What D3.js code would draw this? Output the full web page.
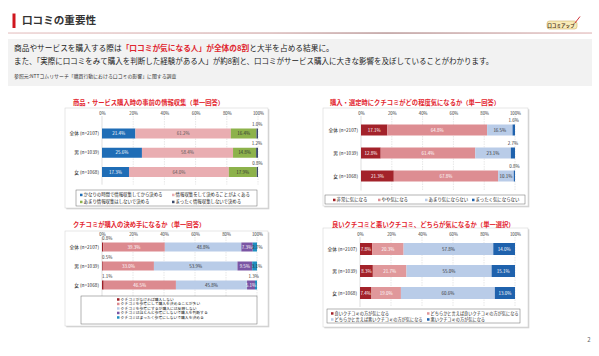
<!DOCTYPE html>
<html><head><meta charset="utf-8">
<script src="https://cdn.jsdelivr.net/npm/d3@7"></script>
<style>body{margin:0;background:#fff;} svg{display:block;}</style>
</head><body><svg id="c" width="599" height="356"></svg>
<script>
const FONT = '"Noto Sans CJK JP","Noto Sans",sans-serif';
const groups = ["全体 (n=2107)", "男 (n=1039)", "女 (n=1068)"];
const tickValues = [0, 20, 40, 60, 80, 100];
const tickLabels = ["0%", "20%", "40%", "60%", "80%", "100%"];

const c1Title = "商品・サービス購入時の事前の情報収集（単一回答）";
const c1Series = ["かなりの時間で情報収集してから決める", "情報収集をして決めることがよくある", "あまり情報収集はしないで決める", "まったく情報収集しないで決める"];
const c1Values = [[21.4, 61.2, 16.4, 1.0], [25.6, 58.4, 14.8, 1.2], [17.3, 64.0, 17.9, 0.8]];

const c2Title = "購入・選定時にクチコミがどの程度気になるか（単一回答）";
const c2Series = ["非常に気になる", "やや気になる", "あまり気にならない", "まったく気にならない"];
const c2Values = [[17.1, 64.8, 16.5, 1.6], [12.8, 61.4, 23.1, 2.7], [21.3, 67.8, 10.1, 0.8]];

const c3Title = "クチコミが購入の決め手になるか（単一回答）";
const c3Series = ["クチコミがなければ購入しない", "クチコミを参考にして購入を決めることが多い", "クチコミを参考にするが購入には反映しない", "クチコミはほとんど参考にしないで購入を判断する", "クチコミはまったく参考にしないで購入を決める"];
const c3Values = [[0.8, 39.3, 48.8, 7.3, 2.7], [0.5, 33.0, 53.9, 9.5, 3.1], [1.1, 46.5, 45.8, 5.1, 1.3]];

const c4Title = "良いクチコミと悪いクチコミ、どちらが気になるか（単一選択）";
const c4Series = ["良いクチコミの方が気になる", "どちらかと言えば良いクチコミの方が気になる", "どちらかと言えば悪いクチコミの方が気になる", "悪いクチコミの方が気になる"];
const c4Values = [[7.8, 20.3, 57.8, 14.0], [8.3, 21.7, 55.0, 15.1], [7.4, 19.0, 60.6, 13.0]];

const svg = d3.select("#c").attr("font-family", FONT);

// ---------- header ----------
const defs = svg.append("defs");
const grad = defs.append("linearGradient").attr("id", "ul");
grad.append("stop").attr("offset", "0%").attr("stop-color", "#ecd2d2");
grad.append("stop").attr("offset", "45%").attr("stop-color", "#d9b8b8");
grad.append("stop").attr("offset", "65%").attr("stop-color", "#b99898");
grad.append("stop").attr("offset", "100%").attr("stop-color", "#e8c8c8");

svg.append("rect").attr("x", 12.5).attr("y", 13.5).attr("width", 3).attr("height", 14.5).attr("fill", "#d0161e");
svg.append("text").attr("x", 22).attr("y", 24.3).attr("font-size", 10.6).attr("font-weight", "bold").attr("fill", "#333").text("口コミの重要性");
svg.append("rect").attr("x", 8).attr("y", 32.3).attr("width", 584).attr("height", 1.5).attr("fill", "url(#ul)");

// logo
svg.append("rect").attr("x", 547).attr("y", 21).attr("width", 30).attr("height", 8).attr("rx", 2.5).attr("fill", "#f8ebb8").attr("stroke", "#c7a24c").attr("stroke-width", 0.5);
svg.append("text").attr("x", 561).attr("y", 26.7).attr("text-anchor", "middle").attr("font-size", 4.6).attr("font-weight", "bold").attr("fill", "#4a3217").text("口コミアップ");
svg.append("line").attr("x1", 575).attr("y1", 23).attr("x2", 580).attr("y2", 16.5).attr("stroke", "#d2343a").attr("stroke-width", 1);

svg.append("rect").attr("x", 8).attr("y", 39).attr("width", 584).attr("height", 47).attr("fill", "#f2f2f2");
const l1 = svg.append("text").attr("x", 14).attr("y", 51).attr("font-size", 7.7).attr("fill", "#222");
l1.append("tspan").text("商品やサービスを購入する際は");
l1.append("tspan").attr("fill", "#e0262f").attr("font-weight", "bold").text("「口コミが気になる人」が全体の8割");
l1.append("tspan").text("と大半を占める結果に。");
svg.append("text").attr("x", 14).attr("y", 64).attr("font-size", 7.5).attr("fill", "#222")
  .text("また、「実際に口コミをみて購入を判断した経験がある人」が約8割と、口コミがサービス購入に大きな影響を及ぼしていることがわかります。");
svg.append("text").attr("x", 14).attr("y", 78).attr("font-size", 4.9).attr("fill", "#333")
  .text("参照元:NTTコムリサーチ「購買行動における口コミの影響」に関する調査");

svg.append("text").attr("x", 589).attr("y", 342).attr("text-anchor", "middle").attr("font-size", 6).attr("fill", "#666").text("2");

// ---------- chart helper ----------
function drawChart(o) {
  const g = svg.append("g");
  const [fx0, fy0, fx1, fy1] = o.frame;
  g.append("rect").attr("x", fx0 + 1.3).attr("y", fy0 + 1.3).attr("width", fx1 - fx0).attr("height", fy1 - fy0).attr("fill", "#d2d2d2");
  g.append("rect").attr("x", fx0).attr("y", fy0).attr("width", fx1 - fx0).attr("height", fy1 - fy0)
    .attr("fill", "#fff").attr("stroke", "#d6d6d6").attr("stroke-width", 0.6);
  g.append("text").attr("x", o.titleX).attr("y", o.titleY).attr("font-size", 6.3).attr("font-weight", "bold").attr("fill", "#e3262f").text(o.title);

  const x = d3.scaleLinear().domain([0, 100]).range([o.x0, o.x1]);
  const step = (o.rowY[2] - o.rowY[0]) / 2;
  const p = 1 - o.barH / step;
  const y = d3.scaleBand().domain(groups).range([o.rowY[0] - step / 2, o.rowY[2] + step / 2]).paddingInner(p).paddingOuter(p / 2);

  const gy0 = o.axisY + 3, gy1 = o.rowY[2] + step / 2 + 3;
  g.selectAll("line.grid").data(tickValues.slice(1)).join("line").attr("class", "grid")
    .attr("x1", d => x(d)).attr("x2", d => x(d)).attr("y1", gy0).attr("y2", gy1)
    .attr("stroke", "#cfcfcf").attr("stroke-width", 0.5).attr("stroke-dasharray", "1.5,1");
  g.append("line").attr("x1", x(0)).attr("x2", x(0)).attr("y1", gy0).attr("y2", gy1).attr("stroke", "#bdbdbd").attr("stroke-width", 0.5);

  const ax = g.append("g").attr("transform", `translate(0,${o.axisY + 1.5})`)
    .call(d3.axisTop(x).tickValues(tickValues).tickFormat((d, i) => tickLabels[i]).tickSize(0).tickPadding(0));
  ax.attr("font-family", FONT);
  ax.select(".domain").remove();
  ax.selectAll("text").attr("font-size", 4.3).attr("fill", "#333");

  groups.forEach(gn => {
    g.append("text").attr("x", o.x0 - 3).attr("y", y(gn) + y.bandwidth() / 2 + 1.6)
      .attr("text-anchor", "end").attr("font-size", 4.7).attr("fill", "#222").text(gn);
  });

  o.values.forEach((row, i) => {
    const total = d3.sum(row);
    const by = y(groups[i]), bh = y.bandwidth();
    let acc = 0;
    row.forEach((v, j) => {
      const a = acc / total * 100, b = (acc + v) / total * 100;
      acc += v;
      g.append("rect").attr("x", x(a)).attr("y", by).attr("width", x(b) - x(a)).attr("height", bh).attr("fill", o.colors[j]);
    });
    acc = 0;
    row.forEach((v, j) => {
      const a = acc / total * 100, b = (acc + v) / total * 100;
      acc += v;
      const lab = v.toFixed(1) + "%";
      const pl = o.place(v, j, row.length);
      const t = g.append("text").attr("font-size", 4.5).text(lab);
      if (pl === "above") {
        t.attr("x", (x(a) + x(b)) / 2).attr("y", by - 2.5).attr("text-anchor", "middle").attr("fill", "#333");
      } else if (pl === "aboveStart") {
        t.attr("x", x(a)).attr("y", by - 2.5).attr("text-anchor", "start").attr("fill", "#333");
      } else if (pl === "aboveEnd") {
        t.attr("x", x(b) + 2).attr("y", by - 2.5).attr("text-anchor", "end").attr("fill", "#333");
      } else if (pl === "after") {
        t.attr("x", x(a) - 0.5).attr("y", by + bh / 2 + 1.6).attr("text-anchor", "start").attr("fill", "#333");
      } else {
        t.attr("x", (x(a) + x(b)) / 2).attr("y", by + bh / 2 + 1.6).attr("text-anchor", "middle").attr("fill", o.labelFill[j]);
      }
    });
  });

  const [lx0, ly0, lx1, ly1] = o.legendBox;
  g.append("rect").attr("x", lx0).attr("y", ly0).attr("width", lx1 - lx0).attr("height", ly1 - ly0)
    .attr("fill", "#fff").attr("stroke", "#6a6a6a").attr("stroke-width", 0.5);
  o.series.forEach((s, j) => {
    const [px, py] = o.legendPos[j];
    g.append("rect").attr("x", px).attr("y", py - 2.3).attr("width", 2.5).attr("height", 2.5).attr("fill", o.colors[j]);
    g.append("text").attr("x", px + 3.6).attr("y", py).attr("font-size", o.legendFont).attr("fill", "#222").text(s);
  });
}

// chart 1
drawChart({
  title: c1Title, series: c1Series, values: c1Values,
  frame: [65, 108, 268, 208], titleX: 73, titleY: 105,
  x0: 102, x1: 258, axisY: 113, rowY: [133.5, 152.5, 172], barH: 10,
  colors: ["#1f6db6", "#e9adb1", "#8db24b", "#3b4a6b"],
  labelFill: ["#fff", "#555", "#333", "#fff"],
  place: (v, j, n) => v < 2 ? "above" : "in",
  legendBox: [76, 190, 257, 206], legendFont: 4.4,
  legendPos: [[80, 196], [172, 196], [80, 203], [172, 203]]
});

// chart 2
drawChart({
  title: c2Title, series: c2Series, values: c2Values,
  frame: [323, 108, 528, 206], titleX: 330, titleY: 105,
  x0: 361, x1: 515, axisY: 113, rowY: [130, 153, 176], barH: 11,
  colors: ["#a3222a", "#dd8d92", "#b9cce8", "#1f62ad"],
  labelFill: ["#fff", "#fff", "#333", "#fff"],
  place: (v, j, n) => v < 3 ? "above" : "in",
  legendBox: [325, 195, 525, 204], legendFont: 4.4,
  legendPos: [[333, 201], [378, 201], [425, 201], [472, 201]]
});

// chart 3
drawChart({
  title: c3Title, series: c3Series, values: c3Values,
  frame: [65, 231, 268, 326], titleX: 73, titleY: 227,
  x0: 102, x1: 257, axisY: 234, rowY: [247, 266, 285], barH: 9,
  colors: ["#9e1f27", "#dc8a8f", "#b9cce8", "#7a55a4", "#1f8fc0"],
  labelFill: ["#fff", "#fff", "#333", "#fff", "#fff"],
  place: (v, j, n) => j === 0 ? "aboveStart" : (j === n - 1 && v < 2 ? "aboveEnd" : (j === n - 1 ? "after" : "in")),
  legendBox: [81, 296, 257, 324], legendFont: 3.8,
  legendPos: [[117, 300.5], [117, 305], [117, 309.5], [117, 314], [117, 318.5]]
});

// chart 4
drawChart({
  title: c4Title, series: c4Series, values: c4Values,
  frame: [323, 228, 528, 327], titleX: 332, titleY: 227,
  x0: 360, x1: 515, axisY: 234, rowY: [249, 271, 293], barH: 12,
  colors: ["#a3222a", "#e0989b", "#b9cce8", "#1f62ad"],
  labelFill: ["#fff", "#fff", "#333", "#fff"],
  place: () => "in",
  legendBox: [327, 309, 520, 323], legendFont: 4.2,
  legendPos: [[331, 314.5], [427, 314.5], [331, 320.5], [427, 320.5]]
});
</script></body></html>
